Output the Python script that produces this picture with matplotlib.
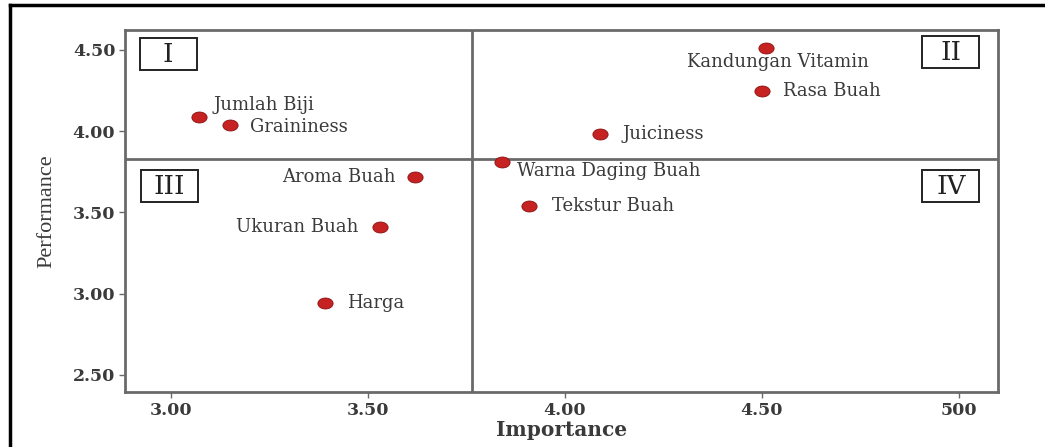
import matplotlib
matplotlib.use("Agg")
import matplotlib.pyplot as plt
from matplotlib.path import Path
from matplotlib.transforms import Affine2D
from matplotlib.lines import Line2D
from matplotlib.patches import Rectangle

# ---- data ----
attributes = ["Jumlah Biji", "Graininess", "Aroma Buah", "Ukuran Buah", "Harga",
              "Warna Daging Buah", "Tekstur Buah", "Juiciness",
              "Kandungan Vitamin", "Rasa Buah"]
importance = [3.07, 3.15, 3.62, 3.53, 3.39, 3.84, 3.91, 4.09, 4.51, 4.50]
performance = [4.09, 4.04, 3.72, 3.41, 2.94, 3.81, 3.54, 3.98, 4.51, 4.25]
x_ticks = [3.0, 3.5, 4.0, 4.5, 5.0]
x_tick_labels = ["3.00", "3.50", "4.00", "4.50", "500"]
y_ticks = [2.5, 3.0, 3.5, 4.0, 4.5]
y_tick_labels = ["2.50", "3.00", "3.50", "4.00", "4.50"]
mean_importance = 3.765
mean_performance = 3.828
quadrants = ["I", "II", "III", "IV"]

# label offsets (pixels) and alignment
offsets = [(15, 12, "left"), (20, -2, "left"), (-20, 0, "right"), (-21, 0, "right"),
           (22, 0, "left"), (15, -9, "left"), (23, 0, "left"), (22, 0, "left"),
           (12, -14, "center"), (21, 0, "left")]

W, H = 1045, 447
fig = plt.figure(figsize=(W / 100, H / 100), dpi=100)
ax_l, ax_b, ax_w, ax_h = 125, 55, 873, 362
ax = fig.add_axes([ax_l / W, ax_b / H, ax_w / W, ax_h / H])

ax.set_xlim(2.883, 5.10)
ax.set_ylim(2.395, 4.623)

spine_c = "#6a6a6a"
text_c = "#3a3a3a"

ax.axvline(mean_importance, color=spine_c, lw=2.0, zorder=1)
ax.axhline(mean_performance, color=spine_c, lw=2.0, zorder=1)

ell = Path.unit_circle().transformed(Affine2D().scale(1.0, 0.72))
ax.scatter(importance, performance, marker=ell, s=120, color="#c62222",
           edgecolor="#8a1010", linewidth=0.6, zorder=3)

for name, x, y, (dx, dy, ha) in zip(attributes, importance, performance, offsets):
    ax.annotate(name, (x, y), xytext=(dx * 0.72, dy * 0.72), textcoords="offset points",
                ha=ha, va="center", fontsize=13, family="DejaVu Serif", color=text_c)

# quadrant label boxes: centres in pixels from axes left/top, size 57x32 px
quad_centres = [(43, 24), (826, 22), (44, 156), (826, 156)]
bw, bh = 57 / ax_w, 32 / ax_h
for q, (cx, cy) in zip(quadrants, quad_centres):
    fx, fy = cx / ax_w, 1 - cy / ax_h
    ax.add_patch(Rectangle((fx - bw / 2, fy - bh / 2), bw, bh, transform=ax.transAxes,
                           fc="white", ec="#222222", lw=1.4, zorder=4))
    ax.text(fx, fy, q, transform=ax.transAxes, ha="center", va="center",
            fontsize=19, family="DejaVu Serif", color="#222222", zorder=5)

for s in ax.spines.values():
    s.set_color(spine_c)
    s.set_linewidth(2.0)

ax.set_xticks(x_ticks)
ax.set_xticklabels(x_tick_labels)
ax.set_yticks(y_ticks)
ax.set_yticklabels(y_tick_labels)
ax.tick_params(colors=spine_c, length=4, width=1, labelcolor=text_c, pad=3)
for lab in ax.get_xticklabels() + ax.get_yticklabels():
    lab.set_family("DejaVu Serif")
    lab.set_fontweight("bold")
    lab.set_fontsize(12.5)

ax.set_xlabel("Importance", family="DejaVu Serif", fontweight="bold", fontsize=14.5,
              color=text_c, labelpad=1)
ax.set_ylabel("Performance", family="Liberation Serif", fontsize=16,
              color=text_c, labelpad=12)

# outer frame lines (top and left)
fig.add_artist(Line2D([10 / W, 1.0], [1 - 5 / H, 1 - 5 / H], transform=fig.transFigure,
                      color="black", lw=2.5))
fig.add_artist(Line2D([10 / W, 10 / W], [0, 1 - 5 / H], transform=fig.transFigure,
                      color="black", lw=2.5))

fig.savefig("out.png", dpi=100, facecolor="white")
